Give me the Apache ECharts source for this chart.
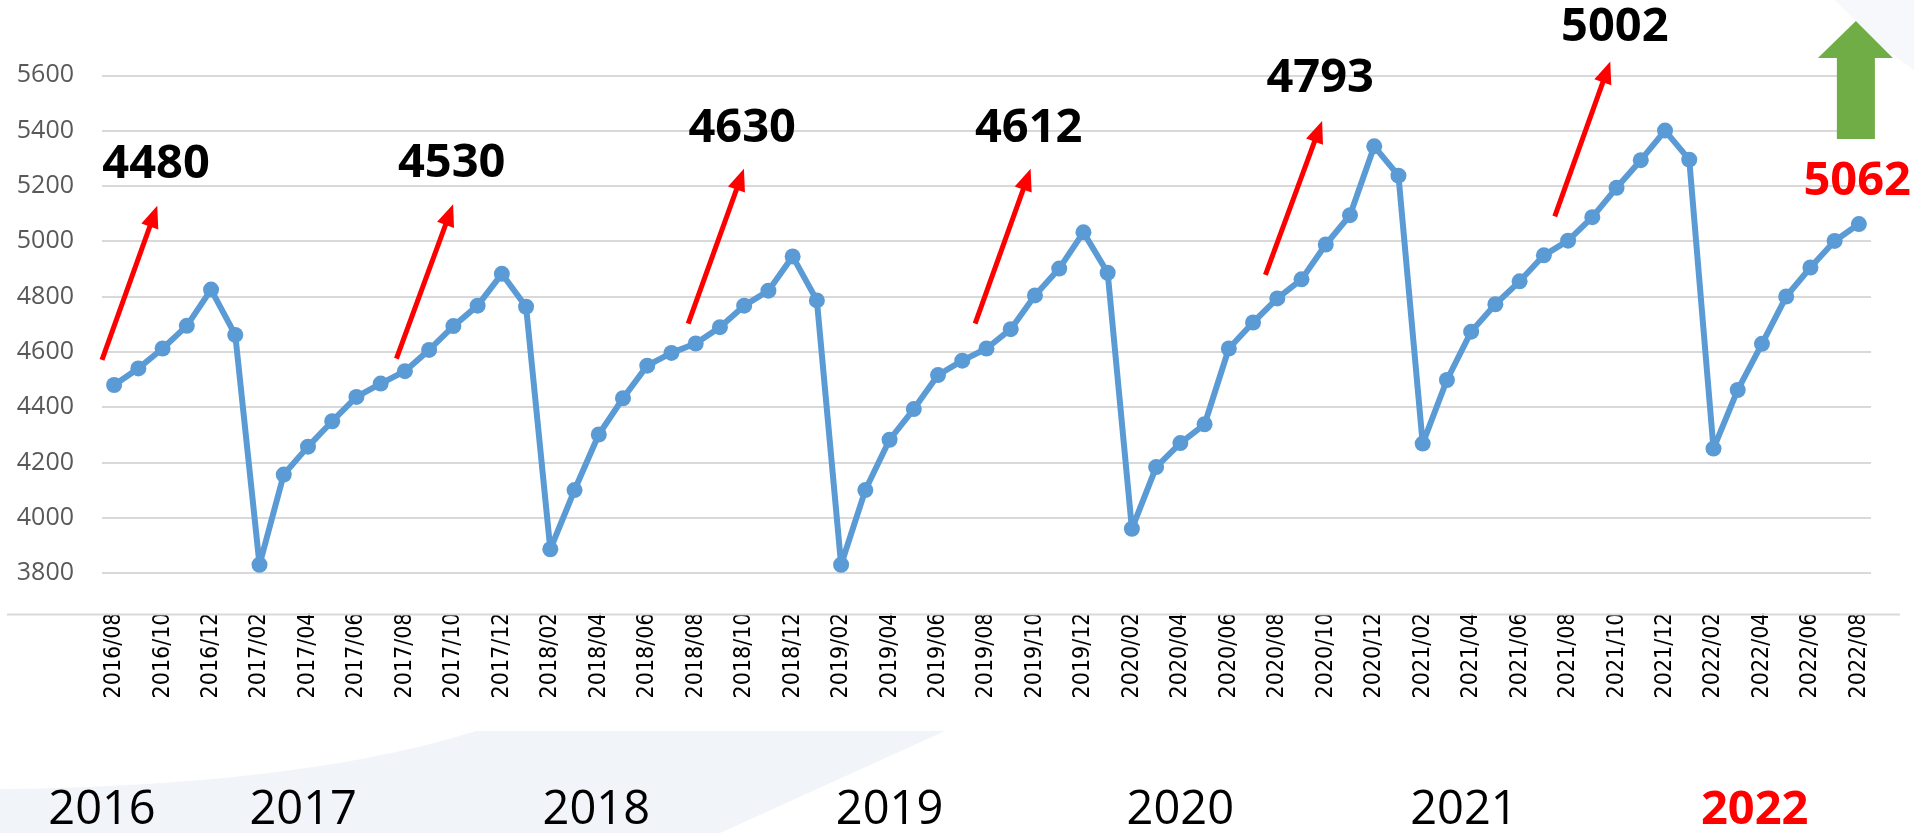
<!DOCTYPE html>
<html>
<head>
<meta charset="utf-8">
<script src="https://cdn.jsdelivr.net/npm/echarts@6/dist/echarts.min.js"></script>
<style>
html,body{margin:0;padding:0;background:#ffffff;}
#c{width:1914px;height:833px;}
</style>
</head>
<body>
<div id="c"></div>
<script>
// ---------- DATA ----------
const categories = [
  '2016/08','2016/09','2016/10','2016/11','2016/12',
  '2017/01','2017/02','2017/03','2017/04','2017/05','2017/06','2017/07','2017/08','2017/09','2017/10','2017/11','2017/12',
  '2018/01','2018/02','2018/03','2018/04','2018/05','2018/06','2018/07','2018/08','2018/09','2018/10','2018/11','2018/12',
  '2019/01','2019/02','2019/03','2019/04','2019/05','2019/06','2019/07','2019/08','2019/09','2019/10','2019/11','2019/12',
  '2020/01','2020/02','2020/03','2020/04','2020/05','2020/06','2020/07','2020/08','2020/09','2020/10','2020/11','2020/12',
  '2021/01','2021/02','2021/03','2021/04','2021/05','2021/06','2021/07','2021/08','2021/09','2021/10','2021/11','2021/12',
  '2022/01','2022/02','2022/03','2022/04','2022/05','2022/06','2022/07','2022/08'
];
const values2016 = [4480, 4540, 4612, 4694, 4825];
const values2017 = [4661, 3830, 4156, 4257, 4349, 4437, 4485, 4530, 4607, 4693, 4767, 4882];
const values2018 = [4763, 3886, 4100, 4301, 4432, 4550, 4596, 4630, 4689, 4767, 4821, 4945];
const values2019 = [4786, 3830, 4100, 4282, 4393, 4516, 4568, 4612, 4682, 4804, 4901, 5032];
const values2020 = [4886, 3960, 4183, 4270, 4338, 4612, 4706, 4793, 4862, 4988, 5094, 5343];
const values2021 = [5237, 4268, 4498, 4673, 4772, 4855, 4949, 5002, 5087, 5193, 5293, 5400];
const values2022 = [5295, 4250, 4462, 4629, 4800, 4905, 5001, 5062];

const yLabelMin = 3800;
const yLabelMax = 5600;

// annotation numbers (August of each year) and where they sit (category index, value)
const annotationLabels = ['4480', '4530', '4630', '4612', '4793', '5002'];
const annotationX = [1.73, 13.93, 25.92, 37.74, 49.77, 61.93];
const annotationY = [5277, 5280, 5408, 5408, 5587, 5772];
const lastLabel = '5062';
const lastLabelAt = [71.93, 5217];

// red arrows: tail and tip in (category index, value)
const arrowTail = [[-0.50, 4571], [11.65, 4575], [23.69, 4702], [35.53, 4702], [47.51, 4878], [59.45, 5090]];
const arrowTip  = [[1.78, 5128], [13.99, 5134], [25.99, 5262], [37.82, 5262], [49.85, 5435], [61.74, 5650]];

// year captions under the axis
const yearLabels = ['2016', '2017', '2018', '2019', '2020', '2021', '2022'];
const yearX = [-0.5, 7.8, 19.9, 32.0, 44.0, 55.7, 67.7];

// ---------- CHART ----------
const monthlyValues = [].concat(values2016, values2017, values2018, values2019, values2020, values2021, values2022);

const chart = echarts.init(document.getElementById('c'), null, {renderer: 'canvas'});

const option = {
  backgroundColor: '#ffffff',
  animation: false,
  grid: {left: 102, right: 43, top: 20, bottom: 218.5, outerBoundsMode: 'none', containLabel: false},
  xAxis: [
    {
      type: 'category',
      data: categories,
      boundaryGap: true,
      axisLine: {show: false},
      axisTick: {show: false},
      splitLine: {show: false},
      axisLabel: {
        interval: 1,
        rotate: 90,
        margin: -2,
        fontSize: 23,
        fontFamily: '"DejaVu Sans Condensed", "DejaVu Sans", sans-serif',
        color: '#000000'
      }
    },
    {
      type: 'value',
      min: -0.5,
      max: categories.length - 0.5,
      show: false
    }
  ],
  yAxis: {
    type: 'value',
    min: 3650,
    max: 5800,
    splitNumber: 11,
    axisLine: {show: false},
    axisTick: {show: false},
    axisLabel: {
      margin: 28,
      fontSize: 25,
      fontFamily: 'Open Sans',
      color: '#595959',
      formatter: function (v) { return (v >= yLabelMin && v <= yLabelMax) ? String(v) : ''; }
    },
    splitLine: {
      show: true,
      showMinLine: false,
      showMaxLine: false,
      lineStyle: {color: '#d9d9d9', width: 2}
    }
  },
  series: [
    {
      type: 'line',
      data: monthlyValues,
      xAxisIndex: 0,
      yAxisIndex: 0,
      symbol: 'circle',
      symbolSize: 16,
      showAllSymbol: true,
      lineStyle: {color: '#5b9bd5', width: 6},
      itemStyle: {color: '#5b9bd5'},
      z: 3
    },
    {
      type: 'scatter',
      xAxisIndex: 1,
      yAxisIndex: 0,
      clip: false,
      silent: true,
      symbolSize: 1,
      itemStyle: {color: 'rgba(0,0,0,0)', opacity: 1},
      emphasis: {disabled: true},
      data: annotationX.map(function (x, i) {
        return {value: [x, annotationY[i]], name: annotationLabels[i]};
      }).concat([{
        value: lastLabelAt, name: lastLabel,
        label: {color: '#ff0000'}
      }]),
      label: {
        show: true,
        position: 'inside',
        formatter: '{b}',
        fontSize: 47,
        fontWeight: 'bold',
        fontFamily: 'Open Sans',
        color: '#000000',
        opacity: 1
      },
      z: 5
    }
  ]
};
chart.setOption(option);

// ---------- annotations through the chart's scales ----------
function toPx(pt) { return chart.convertToPixel({seriesIndex: 1}, pt); }
const baseY = chart.convertToPixel({yAxisIndex: 0}, 3650);
const graphics = [];

// background swoosh (slide decoration): quadratic edge sampled into a polygon
const swoosh = [];
for (let k = 0; k <= 24; k++) {
  const t = k / 24;
  const x = 2 * (1 - t) * t * 300 + t * t * 476;
  const y = (1 - t) * (1 - t) * 789 + 2 * (1 - t) * t * 786 + t * t * 731;
  swoosh.push([x, y]);
}
swoosh.push([945, 731], [720, 833], [0, 833]);
graphics.push({
  type: 'polygon', z: -10, silent: true,
  shape: {points: swoosh},
  style: {fill: '#f1f4f9'}
});
graphics.push({
  type: 'polygon', z: -10, silent: true,
  shape: {points: [[1835, 0], [1914, 0], [1914, 70], [1880, 45]]},
  style: {fill: '#f6f8fb'}
});

// baseline
graphics.push({
  type: 'line', silent: true, z: 1,
  shape: {x1: 7, y1: baseY, x2: 1900, y2: baseY},
  style: {stroke: '#d9d9d9', lineWidth: 2}
});

// red arrows
arrowTail.forEach(function (t, i) {
  const p0 = toPx(t), p1 = toPx(arrowTip[i]);
  const dx = p1[0] - p0[0], dy = p1[1] - p0[1];
  const len = Math.sqrt(dx * dx + dy * dy);
  const ux = dx / len, uy = dy / len;
  const headLen = 22, headHalf = 9;
  const bx = p1[0] - ux * headLen, by = p1[1] - uy * headLen;
  graphics.push({
    type: 'line', silent: true, z: 4,
    shape: {x1: p0[0], y1: p0[1], x2: bx + ux * 2, y2: by + uy * 2},
    style: {stroke: '#ff0000', lineWidth: 5}
  });
  graphics.push({
    type: 'polygon', silent: true, z: 4,
    shape: {points: [[p1[0], p1[1]], [bx - uy * headHalf, by + ux * headHalf], [bx + uy * headHalf, by - ux * headHalf]]},
    style: {fill: '#ff0000'}
  });
});

// green up arrow above the last point
const lastPx = toPx([categories.length - 1, monthlyValues[monthlyValues.length - 1]]);
const gx = lastPx[0] - 3;
graphics.push({
  type: 'polygon', silent: true, z: 4,
  shape: {points: [
    [gx, 21], [gx + 37, 58], [gx + 19, 58], [gx + 19, 139],
    [gx - 19, 139], [gx - 19, 58], [gx - 38, 58]
  ]},
  style: {fill: '#70ad47'}
});

// year captions
yearLabels.forEach(function (y, i) {
  const x = toPx([yearX[i], 5000])[0];
  const isLast = i === yearLabels.length - 1;
  graphics.push({
    type: 'text', silent: true, z: 5,
    x: x, y: 811,
    style: {
      text: y,
      fontSize: 47,
      fontFamily: 'Open Sans',
      fontWeight: isLast ? 'bold' : 'normal',
      fill: isLast ? '#ff0000' : '#000000',
      align: 'center',
      verticalAlign: 'middle'
    }
  });
});

chart.setOption({graphic: {elements: graphics}});
</script>
</body>
</html>
